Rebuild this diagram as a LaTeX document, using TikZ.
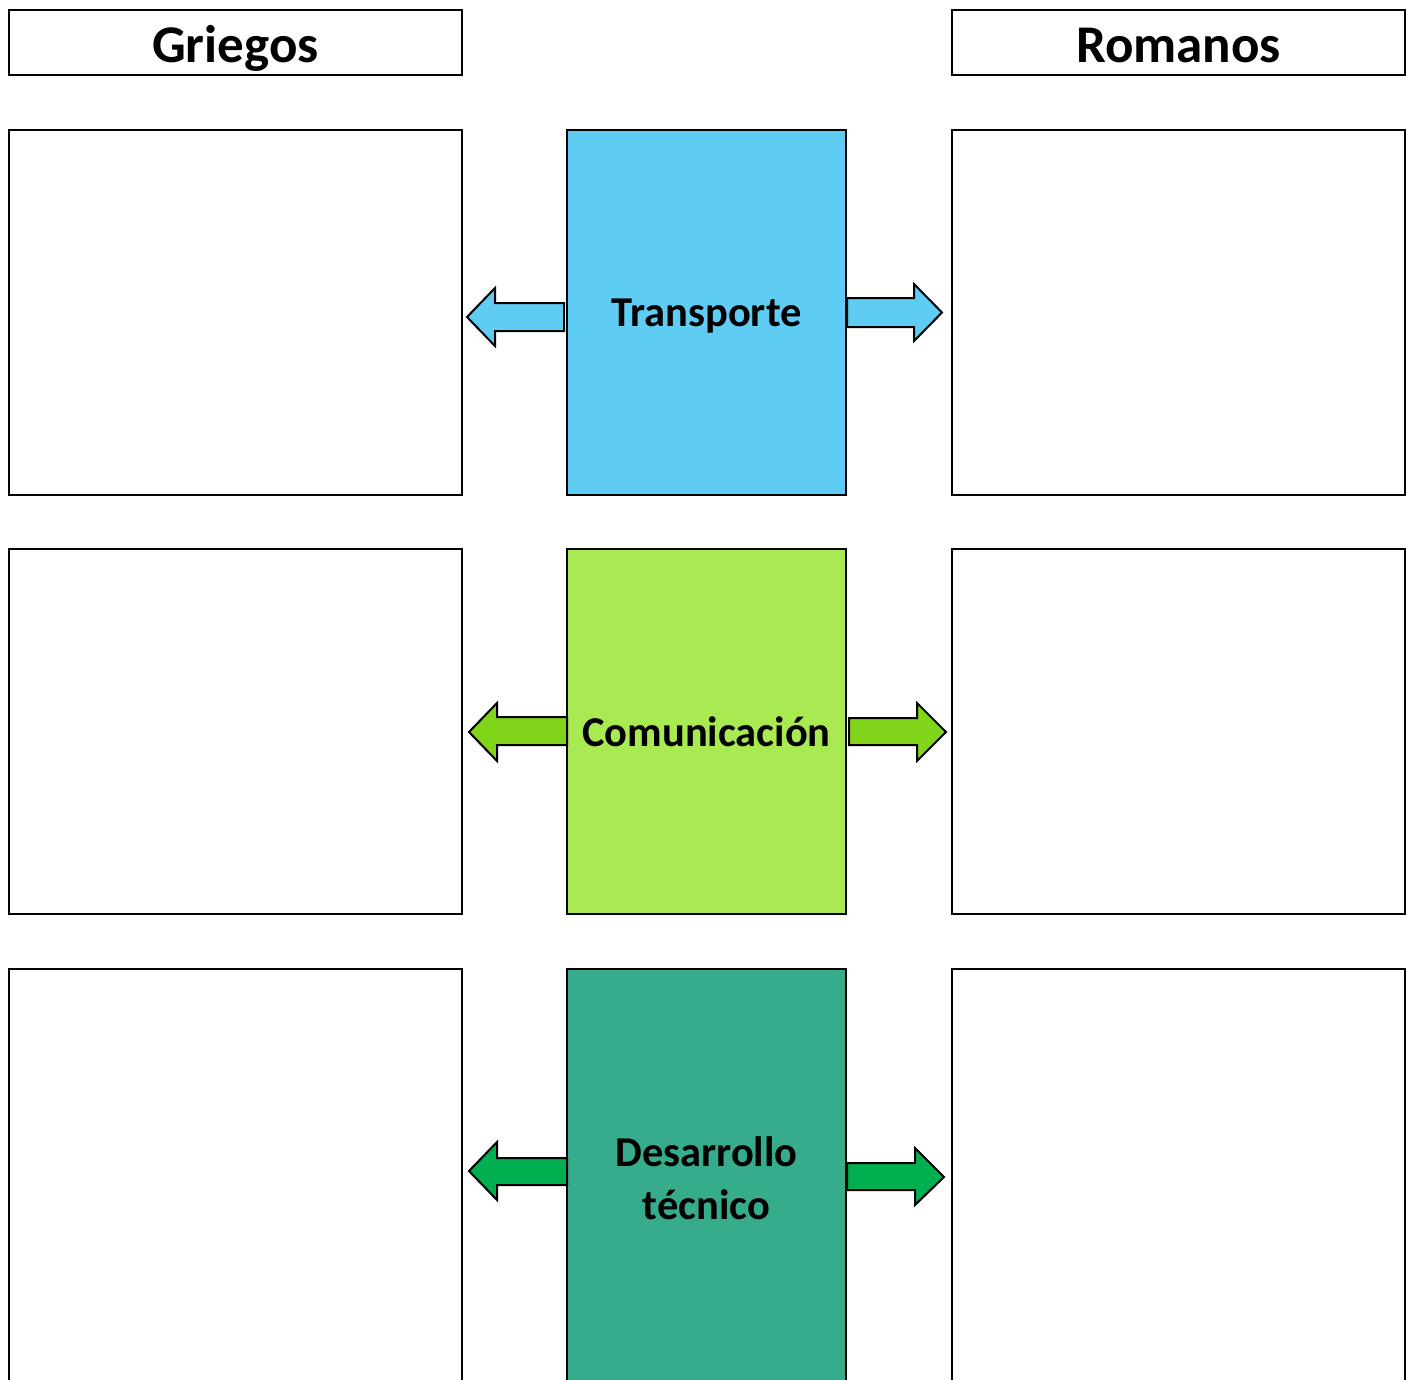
\documentclass[tikz,border=0pt]{standalone}
\usepackage{fontspec}
\setmainfont{Carlito}
\definecolor{cblue}{HTML}{5ECCF3}
\definecolor{clime}{HTML}{A9EA52}
\definecolor{cteal}{HTML}{36AC8C}
\definecolor{agreen}{HTML}{80D41A}
\definecolor{dgreen}{HTML}{00B050}
\begin{document}
\begin{tikzpicture}[x=1pt,y=-1pt,
  box/.style={draw=black,line width=2pt,fill=white,rectangle,inner sep=0pt},
  head/.style={box,minimum width=453pt,minimum height=65pt},
  headtxt/.style={anchor=base,inner sep=0pt,font=\fontsize{53}{60}\selectfont\bfseries},
  side/.style={box,minimum width=453pt,minimum height=365pt},
  center/.style={draw=black,line width=2pt,rectangle,inner sep=0pt,minimum width=279pt,minimum height=365pt},
  ctxt/.style={anchor=base,inner sep=0pt,font=\fontsize{42.5}{53}\selectfont\bfseries},
  barrow/.style={draw=black,line width=2pt,line join=miter}]
\useasboundingbox (0,0) rectangle (1410,1380);
\clip (0,0) rectangle (1410,1380);
\fill[white] (0,0) rectangle (1410,1380);
% headers
\node[head] (gr) at (235.5,42.5) {};
\node[headtxt] (grt) at (235.5,63) {Griegos};
\node[head] (ro) at (1178.5,42.5) {};
\node[headtxt] (rot) at (1178.5,63) {Romanos};
% row 1
\node[side] (l1) at (235.5,312.5) {};
\node[side] (r1) at (1178.5,312.5) {};
\node[center,fill=cblue] (c1) at (706.5,312.5) {};
\node[ctxt] (c1t) at (706.5,326) {Transporte};
% row 2
\node[side] (l2) at (235.5,731.5) {};
\node[side] (r2) at (1178.5,731.5) {};
\node[center,fill=clime] (c2) at (706.5,731.5) {};
\node[ctxt] (c2t) at (706.5,746) {Comunicación};
% row 3
\node[side,minimum height=460pt] (l3) at (235.5,1199) {};
\node[side,minimum height=460pt] (r3) at (1178.5,1199) {};
\node[center,fill=cteal,minimum height=460pt] (c3) at (706.5,1199) {};
\node[ctxt] (c3a) at (706.5,1166) {Desarrollo};
\node[ctxt] (c3b) at (706.5,1219) {técnico};
% arrows row 1
\draw[barrow,fill=cblue] (564,303) -- (495,303) -- (495,288) -- (467,317) -- (495,346) -- (495,331) -- (564,331) -- cycle;
\draw[barrow,fill=cblue] (847,298) -- (914,298) -- (914,284) -- (942,312.5) -- (914,341) -- (914,327) -- (847,327) -- cycle;
% arrows row 2
\draw[barrow,fill=agreen] (567,717) -- (497,717) -- (497,703) -- (469,732) -- (497,761) -- (497,745) -- (567,745) -- cycle;
\draw[barrow,fill=agreen] (849,718) -- (917,718) -- (917,703) -- (946,732) -- (917,761) -- (917,745) -- (849,745) -- cycle;
% arrows row 3
\draw[barrow,fill=dgreen] (567,1158) -- (497,1158) -- (497,1142) -- (469,1171) -- (497,1200) -- (497,1185) -- (567,1185) -- cycle;
\draw[barrow,fill=dgreen] (847,1163) -- (915,1163) -- (915,1148) -- (944,1177) -- (915,1205) -- (915,1190) -- (847,1190) -- cycle;
\end{tikzpicture}
\end{document}
